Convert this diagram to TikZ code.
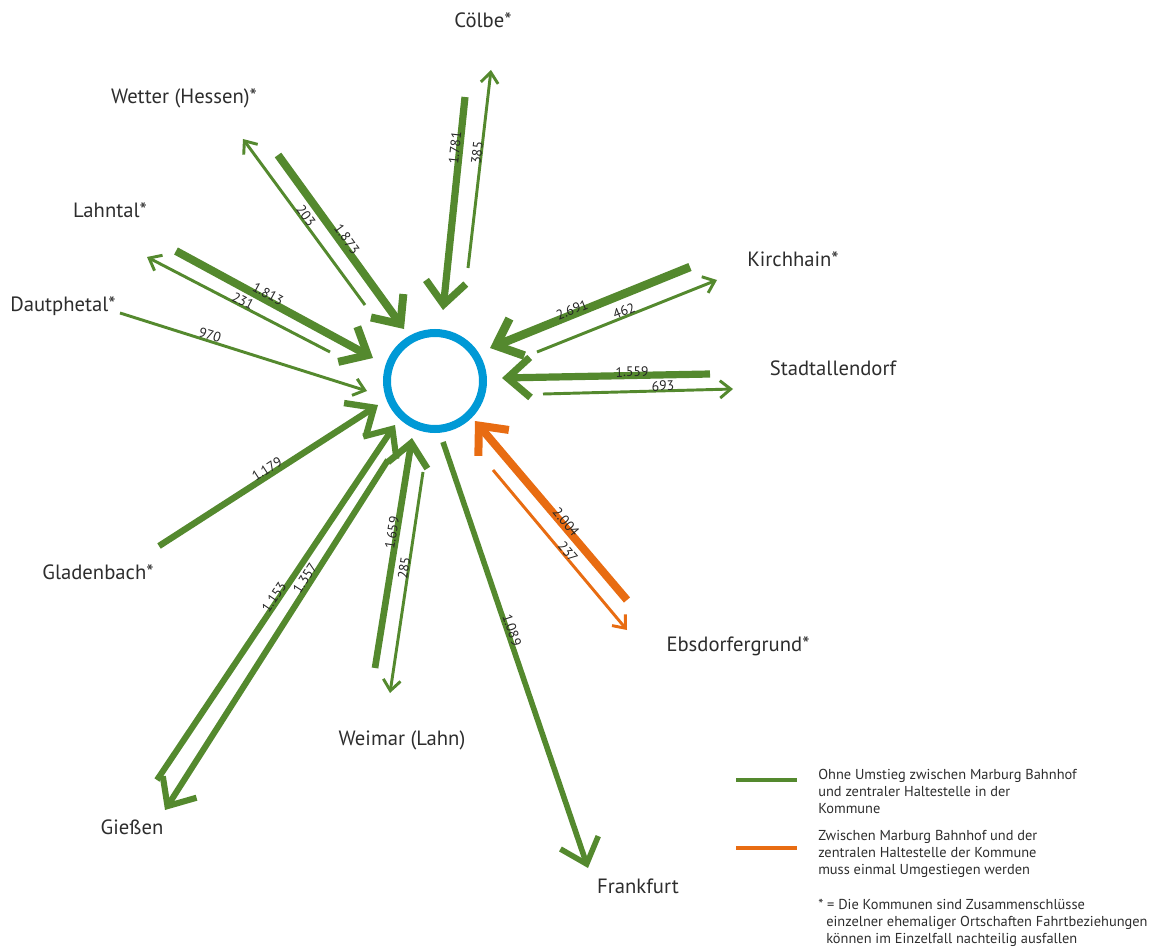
\documentclass[tikz,border=0pt]{standalone}
\usepackage{fontspec}
\setmainfont{PT Sans}
\usetikzlibrary{arrows.meta}
\definecolor{grn}{RGB}{84,137,46}
\definecolor{org}{RGB}{232,108,18}
\definecolor{blu}{RGB}{0,153,214}
\definecolor{txt}{RGB}{45,45,45}
\tikzset{
  city/.style={font=\fontsize{15.5}{18}\selectfont, text=txt, inner sep=0pt},
  num/.style={font=\fontsize{10.3}{12}\selectfont, text=black!85, inner sep=0pt},
  big/.style={line width=#1, -{Straight Barb[length=17pt,width=30pt]}},
  small/.style={line width=2.2pt, -{Straight Barb[length=8pt,width=13pt]}},
  legtxt/.style={font=\fontsize{10.8}{12.9}\selectfont, text=txt, inner sep=0pt, align=left, anchor=north west},
}
\begin{document}
\begin{tikzpicture}[x=0.75pt,y=-0.75pt]
\useasboundingbox (0,0) rectangle (1154,949);
% hub
\node[draw=blu, line width=6pt, circle, minimum size=96*0.75pt, inner sep=0pt] (hub) at (435,381) {};
% endpoints
\coordinate (c1a) at (465,97);  \coordinate (c1b) at (443,310);
\coordinate (c2a) at (468,268); \coordinate (c2b) at (491,70);
\coordinate (w1a) at (278,155); \coordinate (w1b) at (404,329);
\coordinate (w2a) at (365,305); \coordinate (w2b) at (243,139);
\coordinate (l1a) at (176,251); \coordinate (l1b) at (373,358);
\coordinate (l2a) at (330,352); \coordinate (l2b) at (147,257);
\coordinate (d1a) at (120,313); \coordinate (d1b) at (367,391);
\coordinate (g1a) at (159,546); \coordinate (g1b) at (378,405);
\coordinate (gi1a) at (157,780); \coordinate (gi1b) at (395,425);
\coordinate (gi2a) at (388,460); \coordinate (gi2b) at (165,810);
\coordinate (wm1a) at (375,668); \coordinate (wm1b) at (412,438);
\coordinate (wm2a) at (423,472); \coordinate (wm2b) at (390,693);
\coordinate (fa) at (443,442); \coordinate (fb) at (588,868);
\coordinate (e1a) at (627,600); \coordinate (e1b) at (475,421);
\coordinate (e2a) at (493,470); \coordinate (e2b) at (627,630);
\coordinate (k1a) at (690,267); \coordinate (k1b) at (490,348);
\coordinate (k2a) at (537,352); \coordinate (k2b) at (717,280);
\coordinate (s1a) at (710,374); \coordinate (s1b) at (502,378);
\coordinate (s2a) at (543,394); \coordinate (s2b) at (733,389);
% arrows
\draw[grn, big=5.4pt] (c1a) -- (c1b);
\draw[grn, small] (c2a) -- (c2b);
\draw[grn, big=6pt] (w1a) -- (w1b);
\draw[grn, small] (w2a) -- (w2b);
\draw[grn, big=6pt] (l1a) -- (l1b);
\draw[grn, small] (l2a) -- (l2b);
\draw[grn, small] (d1a) -- (d1b);
\draw[grn, big=4.8pt] (g1a) -- (g1b);
\draw[grn, big=4.6pt] (gi1a) -- (gi1b);
\draw[grn, big=4.6pt] (gi2a) -- (gi2b);
\draw[grn, big=5pt] (wm1a) -- (wm1b);
\draw[grn, small] (wm2a) -- (wm2b);
\draw[grn, big=4.2pt] (fa) -- (fb);
\draw[org, big=6pt] (e1a) -- (e1b);
\draw[org, small] (e2a) -- (e2b);
\draw[grn, big=6.4pt] (k1a) -- (k1b);
\draw[grn, small] (k2a) -- (k2b);
\draw[grn, big=5.4pt] (s1a) -- (s1b);
\draw[grn, small] (s2a) -- (s2b);
% numbers
\node[num, rotate=84] (n1) at (455,148) {1.781};
\node[num, rotate=83] (n2) at (477,153) {385};
\node[num, rotate=-54] (n3) at (347,239) {1.873};
\node[num, rotate=-54] (n4) at (306,216) {203};
\node[num, rotate=-28.5] (n5) at (268,294) {1.813};
\node[num, rotate=-27.5] (n6) at (243,301) {231};
\node[num, rotate=-17.5] (n7) at (210,335) {970};
\node[num, rotate=33] (n8) at (267,469) {1.179};
\node[num, rotate=56] (n9) at (274,597) {1.153};
\node[num, rotate=57.5] (n10) at (305,578) {1.357};
\node[num, rotate=81] (n11) at (392,533) {1.659};
\node[num, rotate=81.5] (n12) at (404,568) {285};
\node[num, rotate=-71] (n13) at (512,630) {1.089};
\node[num, rotate=-50] (n14) at (566,522) {2.004};
\node[num, rotate=-50] (n15) at (568,552) {237};
\node[num, rotate=22] (n16) at (572,310) {2.691};
\node[num, rotate=22] (n17) at (624,311) {462};
\node[num, rotate=1] (n18) at (632,372) {1.559};
\node[num, rotate=1.5] (n19) at (663,386) {693};
% cities
\node[city] (colbe) at (483,20) {Cölbe*};
\node[city] (wetter) at (184,98) {Wetter (Hessen)*};
\node[city] (lahntal) at (110,210) {Lahntal*};
\node[city] (daut) at (63,306) {Dautphetal*};
\node[city] (kirch) at (793,259) {Kirchhain*};
\node[city] (stadt) at (833,368) {Stadtallendorf};
\node[city] (glad) at (98,572) {Gladenbach*};
\node[city] (giessen) at (132,827) {Gießen};
\node[city] (weimar) at (402,740) {Weimar (Lahn)};
\node[city] (frank) at (638,886) {Frankfurt};
\node[city] (ebs) at (738,646) {Ebsdorfergrund*};
% legend
\coordinate (lg1a) at (736,780); \coordinate (lg1b) at (797,780);
\coordinate (lg2a) at (736,848); \coordinate (lg2b) at (797,848);
\draw[grn, line width=3pt] (lg1a) -- (lg1b);
\draw[org, line width=3pt] (lg2a) -- (lg2b);
\node[legtxt] (leg1) at (818,769) {Ohne Umstieg zwischen Marburg Bahnhof\\und zentraler Haltestelle in der\\Kommune};
\node[legtxt] (leg2) at (818,830) {Zwischen Marburg Bahnhof und der\\zentralen Haltestelle der Kommune\\muss einmal Umgestiegen werden};
\node[legtxt] (leg3) at (818,899) {* = Die Kommunen sind Zusammenschlüsse\\\hspace*{6pt}einzelner ehemaliger Ortschaften Fahrtbeziehungen\\\hspace*{6pt}können im Einzelfall nachteilig ausfallen};
\end{tikzpicture}
\end{document}
